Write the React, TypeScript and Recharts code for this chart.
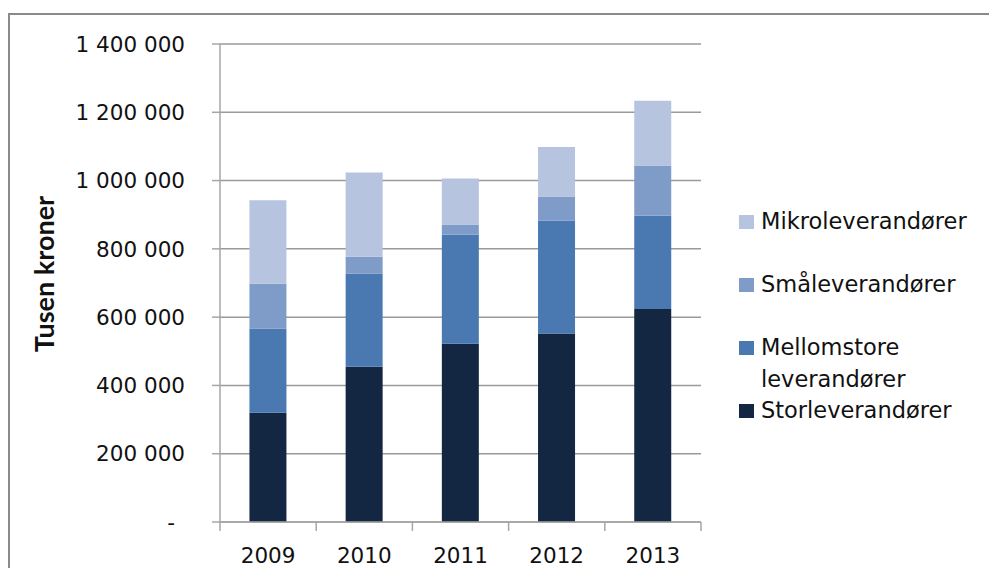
import React from 'react';
import { BarChart, Bar, XAxis, YAxis, CartesianGrid, Legend } from 'recharts';

const years = ['2009', '2010', '2011', '2012', '2013'];
const storleverandorer = [320000, 455000, 522000, 552000, 624000];
const mellomstore = [247000, 273000, 319000, 331000, 273000];
const smaaleverandorer = [131000, 49000, 30000, 70000, 147000];
const mikroleverandorer = [244000, 247000, 135000, 145000, 190000];
const yTicks = [0, 200000, 400000, 600000, 800000, 1000000, 1200000, 1400000];
const legendOrder = ['mikro', 'smaa', 'mellom', 'stor'];

const data = years.map((year, i) => ({
  year,
  stor: storleverandorer[i],
  mellom: mellomstore[i],
  smaa: smaaleverandorer[i],
  mikro: mikroleverandorer[i],
}));

const FONT = '"DejaVu Sans", sans-serif';
const AXIS = '#a6a6a6';
const GRID = '#9a9a9a';
const TEXT = '#111111';
const X_TICK_SIZE = 9;
const X_TICK_MARGIN = 17;
const LINE = 31.5;

const formatY = (v: number) =>
  v === 0 ? '-' : String(v).replace(/\B(?=(\d{3})+(?!\d))/g, ' ');

const YTick = (props: any) => {
  const { x, y, payload } = props;
  const isZero = payload.value === 0;
  return (
    <text
      x={x}
      y={y}
      dx={isZero ? -10 : 0}
      dy="0.36em"
      textAnchor="end"
      fill={TEXT}
      fontFamily={FONT}
      fontSize={21.5}
    >
      {formatY(payload.value)}
    </text>
  );
};

const XTick = (props: any) => {
  const { x, y, payload, index, width, visibleTicksCount } = props;
  const band = Number(width) / Number(visibleTicksCount);
  const top = y - X_TICK_MARGIN - X_TICK_SIZE;
  const bottom = y - X_TICK_MARGIN;
  const ok = isFinite(band);
  return (
    <g>
      {ok && <line x1={x - band / 2} x2={x - band / 2} y1={top} y2={bottom} stroke={AXIS} strokeWidth={1.5} />}
      {ok && index === visibleTicksCount - 1 && (
        <line x1={x + band / 2} x2={x + band / 2} y1={top} y2={bottom} stroke={AXIS} strokeWidth={1.5} />
      )}
      <text x={x} y={y} dy="0.71em" textAnchor="middle" fill={TEXT} fontFamily={FONT} fontSize={21.5}>
        {payload.value}
      </text>
    </g>
  );
};

const YTitle = (props: any) => {
  const vb = props.viewBox || { x: 0, y: 0, width: 0, height: 0 };
  const cx = vb.x + 35;
  const cy = vb.y + vb.height / 2 - 9;
  return (
    <text
      transform={`translate(${cx}, ${cy}) rotate(-90)`}
      textAnchor="middle"
      dominantBaseline="central"
      fill={TEXT}
      fontFamily="Lato, sans-serif"
      fontWeight="bold"
      fontSize={27}
    >
      Tusen kroner
    </text>
  );
};

const renderLegend = (props: any) => {
  const items = [...(props.payload || [])].sort(
    (a: any, b: any) => legendOrder.indexOf(a.dataKey) - legendOrder.indexOf(b.dataKey)
  );
  return (
    <div style={{ fontFamily: FONT, fontSize: 22.5, color: TEXT }}>
      {items.map((it: any, i: number) => (
        <div
          key={it.value}
          style={{ display: 'flex', alignItems: 'flex-start', marginBottom: i < 2 ? LINE : 0 }}
        >
          <span
            style={{
              width: 15,
              height: 14,
              background: it.color,
              marginTop: (LINE - 14) / 2,
              marginRight: 7,
              flex: 'none',
              display: 'inline-block',
            }}
          />
          <span style={{ width: 215, lineHeight: `${LINE}px` }}>{it.value}</span>
        </div>
      ))}
    </div>
  );
};

export default function App() {
  return (
    <div style={{ position: 'relative', width: 980, height: 560 }}>
      <div
        style={{
          position: 'absolute',
          left: -1,
          top: 5,
          width: 990,
          height: 555,
          boxSizing: 'border-box',
          borderTop: '2px solid #8a8a8a',
          borderLeft: '3px solid #8a8a8a',
        }}
      />
      <BarChart
        width={980}
        height={560}
        data={data}
        margin={{ top: 36, right: 287, bottom: 16, left: 0 }}
        barCategoryGap="30.6%"
      >
        <CartesianGrid vertical={false} stroke={GRID} strokeWidth={1.5} />
        <XAxis
          dataKey="year"
          height={30}
          axisLine={{ stroke: AXIS, strokeWidth: 1.5 }}
          tickLine={false}
          tickSize={X_TICK_SIZE}
          tickMargin={X_TICK_MARGIN}
          tick={<XTick />}
          interval={0}
        />
        <YAxis
          width={212}
          domain={[0, 1400000]}
          ticks={yTicks}
          interval={0}
          axisLine={{ stroke: AXIS, strokeWidth: 1.5 }}
          tickLine={{ stroke: AXIS, strokeWidth: 1.5 }}
          tickSize={8}
          tickMargin={27}
          tick={<YTick />}
          label={{ content: <YTitle /> }}
        />
        <Legend
          layout="vertical"
          align="center"
          verticalAlign="middle"
          wrapperStyle={{ left: 731, top: 198, width: 250 }}
          content={renderLegend}
        />
        <Bar dataKey="stor" name="Storleverandører" stackId="a" fill="#132742" isAnimationActive={false} />
        <Bar dataKey="mellom" name="Mellomstore leverandører" stackId="a" fill="#4a79b1" isAnimationActive={false} />
        <Bar dataKey="smaa" name="Småleverandører" stackId="a" fill="#7f9cc8" isAnimationActive={false} />
        <Bar dataKey="mikro" name="Mikroleverandører" stackId="a" fill="#b6c4df" isAnimationActive={false} />
      </BarChart>
    </div>
  );
}
